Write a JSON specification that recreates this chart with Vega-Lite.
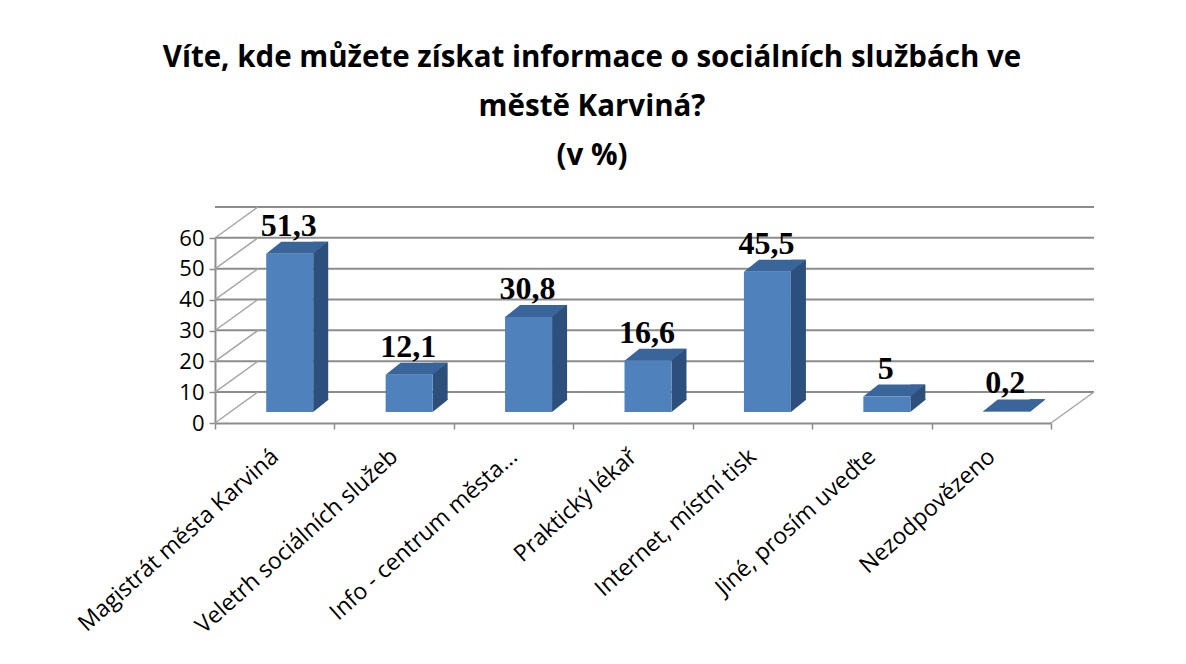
{
  "$schema": "https://vega.github.io/schema/vega-lite/v6.json",
  "width": 836,
  "height": 185,
  "autosize": "none",
  "padding": {"left": 215, "top": 238, "right": 135, "bottom": 241},
  "background": "white",
  "config": {
    "locale": {"number": {"decimal": ",", "thousands": " ", "grouping": [3], "currency": ["", " Kč"]}},
    "view": {"stroke": null},
    "font": "Open Sans",
    "axisY": {
      "title": null,
      "labelOverlap": false,
      "labelFont": "Open Sans",
      "labelFontSize": 22,
      "labelColor": "#000000",
      "labelPadding": 5,
      "domainColor": "#8c8c8c",
      "domainWidth": 2,
      "tickColor": "#8c8c8c",
      "tickWidth": 1.5,
      "tickSize": 6,
      "grid": false
    }
  },
  "title": {
    "text": ["Víte, kde můžete získat informace o sociálních službách ve", "městě Karviná?", "(v %)"],
    "font": "Open Sans",
    "fontSize": 29.5,
    "fontWeight": "bold",
    "color": "#000000",
    "lineHeight": 49,
    "anchor": "middle",
    "dx": -41,
    "offset": 33
  },
  "datasets": {
    "answers": [
      {"kategorie": "Magistrát města Karviná", "procento": 51.3},
      {"kategorie": "Veletrh sociálních služeb", "procento": 12.1},
      {"kategorie": "Info - centrum města...", "procento": 30.8},
      {"kategorie": "Praktický lékař", "procento": 16.6},
      {"kategorie": "Internet, místní tisk", "procento": 45.5},
      {"kategorie": "Jiné, prosím uveďte", "procento": 5},
      {"kategorie": "Nezodpovězeno", "procento": 0.2}
    ],
    "ticks": [{"t": 0}, {"t": 10}, {"t": 20}, {"t": 30}, {"t": 40}, {"t": 50}, {"t": 60}]
  },
  "encoding": {
    "x": {
      "field": "kategorie",
      "type": "nominal",
      "sort": null,
      "scale": {
        "domain": ["Magistrát města Karviná", "Veletrh sociálních služeb", "Info - centrum města...", "Praktický lékař", "Internet, místní tisk", "Jiné, prosím uveďte", "Nezodpovězeno"],
        "paddingInner": 0,
        "paddingOuter": 0
      },
      "axis": {
        "title": null,
        "labelAngle": -42,
        "labelAlign": "right",
        "labelBaseline": "middle",
        "labelFont": "Open Sans",
        "labelFontSize": 23,
        "labelColor": "#000000",
        "labelPadding": 24,
        "labelLimit": 500,
        "labelOverlap": false,
        "domainColor": "#8c8c8c",
        "domainWidth": 2,
        "tickColor": "#8c8c8c",
        "tickWidth": 1.5,
        "tickSize": 6,
        "tickBand": "extent",
        "grid": false
      }
    }
  },
  "layer": [
    {
      "data": {"name": "ticks"},
      "mark": {"type": "rule", "stroke": "#8c8c8c", "strokeWidth": 2, "xOffset": 43, "x2Offset": 43, "yOffset": -31},
      "encoding": {
        "x": null,
        "y": {
          "field": "t",
          "type": "quantitative",
          "scale": {"domain": [0, 60], "nice": false},
          "axis": {"values": [0, 10, 20, 30, 40, 50, 60]}
        }
      }
    },
    {
      "data": {"name": "ticks"},
      "mark": {"type": "point", "shape": "M0,0L43,-31", "size": 4, "filled": false, "stroke": "#a6a6a6", "strokeWidth": 1.5, "opacity": 1},
      "encoding": {
        "x": {"datum": "Magistrát města Karviná", "bandPosition": 0},
        "y": {"field": "t", "type": "quantitative", "axis": {"values": [0, 10, 20, 30, 40, 50, 60]}}
      }
    },
    {
      "data": {"name": "ticks"},
      "transform": [{"filter": "datum.t === 0"}],
      "mark": {"type": "point", "shape": "M0,0L43,-31", "size": 4, "filled": false, "stroke": "#a6a6a6", "strokeWidth": 1.5, "opacity": 1},
      "encoding": {
        "x": {"datum": "Nezodpovězeno", "bandPosition": 1},
        "y": {"field": "t", "type": "quantitative", "axis": {"values": [0, 10, 20, 30, 40, 50, 60]}}
      }
    },
    {
      "data": {"name": "answers"},
      "mark": {"type": "bar", "color": "#2c4f7c", "width": 15, "xOffset": 46, "yOffset": -23},
      "encoding": {
        "y": {"field": "procento", "type": "quantitative", "axis": {"values": [0, 10, 20, 30, 40, 50, 60]}}
      }
    },
    {
      "data": {"name": "answers"},
      "mark": {"type": "point", "shape": "M38.5,-23.5L38.5,-11L54,-23.5Z", "size": 4, "filled": true, "fill": "#2c4f7c", "strokeWidth": 0, "opacity": 1},
      "encoding": {
        "y": {"datum": 0, "type": "quantitative", "axis": {"values": [0, 10, 20, 30, 40, 50, 60]}}
      }
    },
    {
      "data": {"name": "answers"},
      "mark": {"type": "point", "shape": "M-8.5,-11L38.5,-11L53.5,-23L6.5,-23Z", "size": 4, "filled": true, "fill": "#3a659a", "strokeWidth": 0, "opacity": 1},
      "encoding": {
        "y": {"field": "procento", "type": "quantitative", "axis": {"values": [0, 10, 20, 30, 40, 50, 60]}}
      }
    },
    {
      "data": {"name": "answers"},
      "mark": {"type": "bar", "color": "#4f81bd", "width": 47, "xOffset": 15, "yOffset": -11},
      "encoding": {
        "y": {"field": "procento", "type": "quantitative", "axis": {"values": [0, 10, 20, 30, 40, 50, 60]}}
      }
    },
    {
      "data": {"name": "answers"},
      "mark": {"type": "text", "font": "Liberation Serif", "fontWeight": "bold", "fontSize": 32, "color": "#000000", "baseline": "alphabetic", "align": "center", "xOffset": 14, "yOffset": -29},
      "encoding": {
        "y": {"field": "procento", "type": "quantitative", "axis": {"values": [0, 10, 20, 30, 40, 50, 60]}},
        "text": {"field": "procento", "type": "quantitative", "format": "~g"}
      }
    }
  ]
}
